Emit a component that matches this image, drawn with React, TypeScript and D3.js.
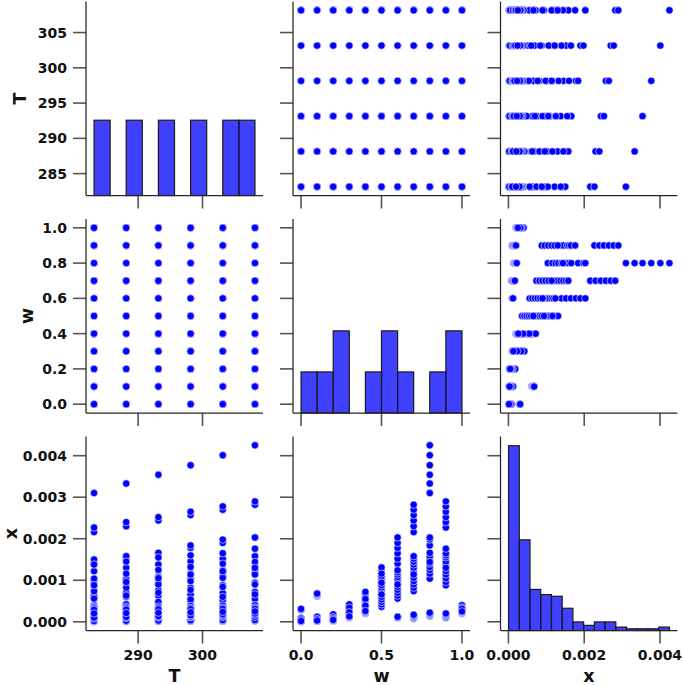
import * as d3 from "d3"

const T_VALUES = [283.15, 288.15, 293.15, 298.15, 303.15, 308.15]
const W_VALUES = [0, 0.1, 0.2, 0.3, 0.4, 0.5, 0.6, 0.7, 0.8, 0.9, 1.0]

// x (in units of 1e-3) for each w value: four runs, each across T_VALUES
const X_W00 = [
  [0.29, 0.293, 0.296, 0.3, 0.305, 0.31],
  [0.06, 0.065, 0.07, 0.075, 0.08, 0.085],
  [0.03, 0.035, 0.04, 0.045, 0.05, 0.055],
  [0.003, 0.006, 0.009, 0.012, 0.015, 0.018],
]
const X_W01 = [
  [0.62, 0.63, 0.645, 0.655, 0.665, 0.68],
  [0.08, 0.09, 0.1, 0.11, 0.115, 0.12],
  [0.04, 0.045, 0.05, 0.055, 0.06, 0.065],
  [0.015, 0.018, 0.02, 0.022, 0.025, 0.03],
]
const X_W02 = [
  [0.12, 0.13, 0.14, 0.15, 0.165, 0.18],
  [0.08, 0.085, 0.09, 0.1, 0.105, 0.11],
  [0.05, 0.055, 0.06, 0.065, 0.07, 0.075],
  [0.02, 0.025, 0.03, 0.035, 0.04, 0.045],
]
const X_W03 = [
  [0.36, 0.37, 0.38, 0.39, 0.405, 0.42],
  [0.29, 0.3, 0.31, 0.32, 0.33, 0.34],
  [0.18, 0.19, 0.2, 0.21, 0.22, 0.23],
  [0.1, 0.105, 0.11, 0.115, 0.12, 0.13],
]
const X_W04 = [
  [0.57, 0.6, 0.63, 0.66, 0.69, 0.72],
  [0.4, 0.43, 0.46, 0.49, 0.52, 0.55],
  [0.29, 0.31, 0.33, 0.35, 0.37, 0.39],
  [0.2, 0.21, 0.22, 0.23, 0.24, 0.26],
]
const X_W05 = [
  [0.96, 1.03, 1.1, 1.17, 1.24, 1.31],
  [0.86, 0.92, 0.98, 1.04, 1.1, 1.16],
  [0.64, 0.7, 0.76, 0.82, 0.88, 0.94],
  [0.36, 0.42, 0.48, 0.54, 0.6, 0.66],
]
const X_W06 = [
  [1.4, 1.52, 1.65, 1.78, 1.9, 2.03],
  [0.96, 1.02, 1.08, 1.14, 1.19, 1.24],
  [0.56, 0.63, 0.7, 0.77, 0.84, 0.9],
  [0.1, 0.1, 0.11, 0.11, 0.12, 0.12],
]
const X_W07 = [
  [2.16, 2.3, 2.44, 2.57, 2.7, 2.82],
  [1.22, 1.3, 1.38, 1.45, 1.52, 1.58],
  [0.74, 0.82, 0.9, 0.98, 1.06, 1.14],
  [0.08, 0.1, 0.11, 0.13, 0.15, 0.17],
]
const X_W08 = [
  [3.1, 3.33, 3.54, 3.77, 4.01, 4.25],
  [1.5, 1.58, 1.66, 1.84, 1.98, 2.03],
  [1.04, 1.16, 1.25, 1.32, 1.4, 1.44],
  [0.14, 0.15, 0.17, 0.18, 0.2, 0.22],
]
const X_W09 = [
  [2.27, 2.4, 2.52, 2.65, 2.78, 2.9],
  [1.38, 1.45, 1.55, 1.6, 1.65, 1.76],
  [0.88, 0.96, 1.05, 1.14, 1.22, 1.3],
  [0.1, 0.12, 0.14, 0.16, 0.18, 0.2],
]
const X_W10 = [
  [0.35, 0.36, 0.37, 0.38, 0.39, 0.4],
  [0.32, 0.325, 0.33, 0.335, 0.34, 0.345],
  [0.29, 0.295, 0.3, 0.305, 0.31, 0.315],
  [0.2, 0.21, 0.22, 0.23, 0.24, 0.25],
]
const X_BY_W = [X_W00, X_W01, X_W02, X_W03, X_W04, X_W05, X_W06, X_W07, X_W08, X_W09, X_W10]

const VARS = ["T", "w", "x"]
const BIN_COUNT: Record<string, number> = { T: 10, w: 10, x: 15 }

const X_TICKS: Record<string, number[]> = { T: [290, 300], w: [0, 0.5, 1], x: [0, 0.002, 0.004] }
const Y_TICKS: Record<string, number[]> = {
  T: [285, 290, 295, 300, 305],
  w: [0, 0.2, 0.4, 0.6, 0.8, 1],
  x: [0, 0.001, 0.002, 0.003, 0.004],
}
const TICK_FORMAT: Record<string, (v: number) => string> = {
  T: d3.format("d"),
  w: d3.format(".1f"),
  x: d3.format(".3f"),
}

// layout
const WIDTH = 683
const HEIGHT = 685
const COL_X = [86, 293, 500.5]
const ROW_Y = [1.5, 219, 436.5]
const PANEL_W = 177
const PANEL_H = 194
const TICK_LEN = 13
const YLABEL_X = [26, 33, 17]

const POINT_COLOR = "#0000ff"
const BAR_COLOR = "rgba(0, 0, 255, 0.75)"

type Row = { T: number; w: number; x: number }

const data: Row[] = []
T_VALUES.forEach((T, ti) => {
  W_VALUES.forEach((w, wi) => {
    X_BY_W[wi].forEach((run) => data.push({ T, w, x: run[ti] / 1000 }))
  })
})

function padded(values: number[]): [number, number] {
  const [lo, hi] = d3.extent(values) as [number, number]
  const pad = (hi - lo) * 0.05
  return [lo - pad, hi + pad]
}

export default function App() {
  const columns = VARS.map((v) => data.map((d) => (d as any)[v] as number))

  const xScales = VARS.map((_, j) =>
    d3.scaleLinear().domain(padded(columns[j])).range([COL_X[j], COL_X[j] + PANEL_W]),
  )
  const yScales = VARS.map((_, i) =>
    d3.scaleLinear().domain(padded(columns[i])).range([ROW_Y[i] + PANEL_H, ROW_Y[i]]),
  )

  // histogram bins, edges spread evenly between min and max
  const bins = VARS.map((v, k) => {
    const vals = columns[k]
    const [lo, hi] = d3.extent(vals) as [number, number]
    const n = BIN_COUNT[v]
    const step = (hi - lo) / n
    return d3
      .bin()
      .domain([lo, hi])
      .thresholds(d3.range(1, n).map((i) => lo + i * step))(vals)
  })
  const maxCount = d3.max(bins.flat(), (b) => b.length) as number

  const panels = []
  for (let i = 0; i < 3; i++) {
    for (let j = 0; j < 3; j++) {
      const xs = xScales[j]
      const ys = yScales[i]
      const left = COL_X[j]
      const top = ROW_Y[i]
      const bottom = top + PANEL_H
      const vx = VARS[j]
      const vy = VARS[i]

      let marks
      if (i === j) {
        const countY = d3.scaleLinear().domain([0, maxCount * 1.05]).range([bottom, top])
        marks = bins[i].map((b, k) => (
          <rect
            key={k}
            x={xs(b.x0 as number)}
            y={countY(b.length)}
            width={xs(b.x1 as number) - xs(b.x0 as number)}
            height={bottom - countY(b.length)}
            fill={BAR_COLOR}
            stroke="#1a1a1a"
            strokeWidth={1.2}
          />
        ))
      } else {
        marks = data.map((d, k) => (
          <circle
            key={k}
            cx={xs((d as any)[vx])}
            cy={ys((d as any)[vy])}
            r={3.7}
            fill={POINT_COLOR}
            stroke="#ffffff"
            strokeWidth={0.6}
          />
        ))
      }

      panels.push(
        <g key={`${i}-${j}`}>
          {marks}
          {/* ticks */}
          {Y_TICKS[vy].map((t) => (
            <g key={`y${t}`}>
              <line x1={left - TICK_LEN} x2={left} y1={ys(t)} y2={ys(t)} stroke="#555" strokeWidth={1.6} />
              {j === 0 && (
                <text
                  x={left - TICK_LEN - 6}
                  y={ys(t)}
                  dy="0.36em"
                  textAnchor="end"
                  fontSize={14}
                  fontWeight="bold"
                  fill="#111"
                >
                  {TICK_FORMAT[vy](t)}
                </text>
              )}
            </g>
          ))}
          {X_TICKS[vx].map((t) => (
            <g key={`x${t}`}>
              <line x1={xs(t)} x2={xs(t)} y1={bottom} y2={bottom + TICK_LEN} stroke="#555" strokeWidth={1.6} />
              {i === 2 && (
                <text x={xs(t)} y={bottom + 29.5} textAnchor="middle" fontSize={14} fontWeight="bold" fill="#111">
                  {TICK_FORMAT[vx](t)}
                </text>
              )}
            </g>
          ))}
          {/* spines */}
          <line x1={left} x2={left} y1={top} y2={bottom} stroke="#262626" strokeWidth={1.25} />
          <line x1={left} x2={left + PANEL_W} y1={bottom} y2={bottom} stroke="#262626" strokeWidth={1.25} />
        </g>,
      )
    }
  }

  return (
    <svg
      width={WIDTH}
      height={HEIGHT}
      style={{ position: "absolute", left: 0, top: 0, background: "#fff" }}
      fontFamily="DejaVu Sans"
    >
      <rect width={WIDTH} height={HEIGHT} fill="#fff" />
      {panels}
      {VARS.map((v, i) => (
        <text
          key={`yl${v}`}
          transform={`translate(${YLABEL_X[i]}, ${ROW_Y[i] + PANEL_H / 2}) rotate(-90)`}
          textAnchor="middle"
          fontSize={17.5}
          fontWeight="bold"
          fill="#111"
        >
          {v}
        </text>
      ))}
      {VARS.map((v, j) => (
        <text
          key={`xl${v}`}
          x={COL_X[j] + PANEL_W / 2}
          y={682}
          textAnchor="middle"
          fontSize={17.5}
          fontWeight="bold"
          fill="#111"
        >
          {v}
        </text>
      ))}
    </svg>
  )
}
